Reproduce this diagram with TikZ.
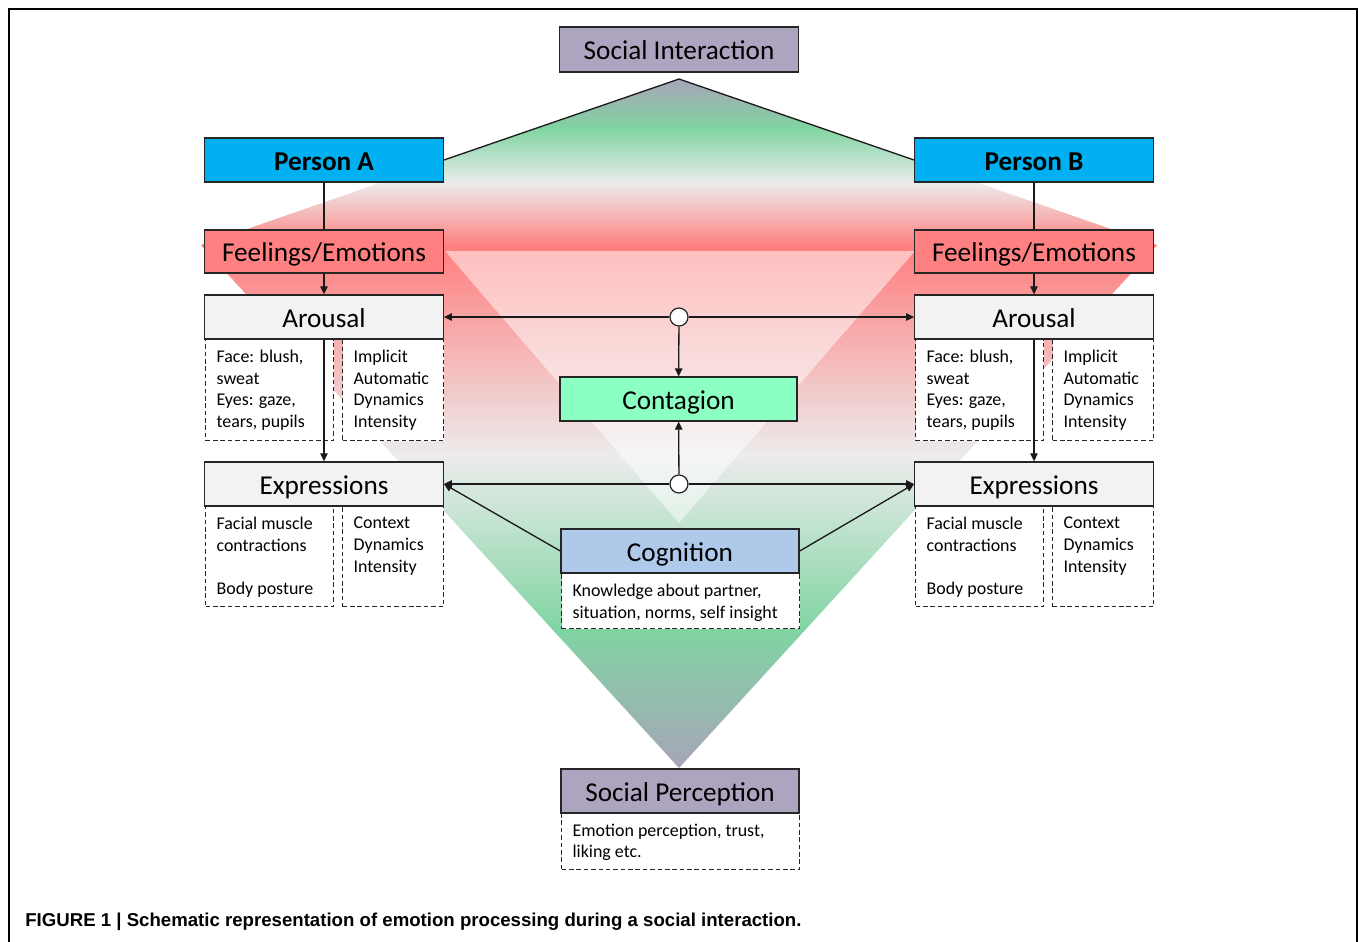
\documentclass[tikz,border=0pt]{standalone}
\usepackage{fontspec}
\setmainfont{Carlito}
\newfontfamily\capfont{Liberation Sans}
\usetikzlibrary{arrows.meta}
\definecolor{siPurple}{HTML}{ADA4BF}
\definecolor{personBlue}{HTML}{00B0F0}
\definecolor{feelRed}{HTML}{FF8080}
\definecolor{boxGray}{HTML}{F2F2F2}
\definecolor{contMint}{HTML}{8CFFC2}
\definecolor{cogBlue}{HTML}{AFC9EA}
\definecolor{gTop}{HTML}{A8A4B8}
\definecolor{gGreen}{HTML}{80D4A2}
\definecolor{gWhite}{HTML}{ECECEC}
\definecolor{gRed}{HTML}{FF8080}
\newcommand\dtext[3]{\parbox[t][#2][t]{#1}{\vspace*{0.2cm}\raggedright\leftskip=0.22cm #3}}

\begin{document}
\begin{tikzpicture}[x=0.02cm, y=-0.02cm,
  box/.style={draw=black!85, line width=0.8pt, minimum width=4.77cm, minimum height=0.88cm, inner sep=0pt, text height=13.4pt, text depth=2pt, font=\fontsize{15.5}{18}\selectfont},
  detail/.style={draw=black!85, dash pattern=on 2.6pt off 1.6pt, line width=0.7pt, fill=white, inner sep=0pt, anchor=north west, font=\fontsize{10.2}{12.5}\selectfont},
  hub/.style={circle, draw=black!85, fill=white, minimum size=0.36cm, inner sep=0pt, line width=0.7pt},
  arr/.style={-{Triangle[length=1.6mm,width=1.5mm]}, line width=0.75pt, black!90},
  con/.style={line width=0.75pt, black!90}]
  \useasboundingbox (0,0) rectangle (1358,941);
  \draw[line width=1.1pt] (9,945) -- (9,9) -- (1357,9) -- (1357,945);

  \begin{scope}
    \clip (679,79) -- (201,245) -- (679,768) -- (1157,245) -- cycle;
    \shade[top color=gTop, bottom color=gGreen] (190,78) rectangle (1170,129);
    \shade[top color=gGreen, bottom color=gWhite] (190,128) rectangle (1170,184);
    \shade[top color=gWhite, bottom color=gRed] (190,183) rectangle (1170,246);
    \fill[gRed] (190,245) rectangle (1170,252);
    \shade[top color=gRed, bottom color=gWhite] (190,251) rectangle (1170,456);
    \shade[top color=gWhite, bottom color=gGreen] (190,455) rectangle (1170,631);
    \shade[top color=gGreen, bottom color=gTop] (190,630) rectangle (1170,770);
  \end{scope}
  \fill[white, opacity=0.5] (445,251) -- (915,251) -- (679,523) -- cycle;
  \coordinate (apex) at (679,79);

  \node[box, fill=siPurple, minimum height=0.9cm] (si) at (679,49.5) {Social Interaction};
  \node[box, fill=personBlue, font=\fontsize{15.5}{18}\selectfont\bfseries] (pa) at (324,160) {Person A};
  \node[box, fill=personBlue, font=\fontsize{15.5}{18}\selectfont\bfseries] (pb) at (1034,160) {Person B};
  \node[box, fill=feelRed, minimum height=0.86cm] (feA) at (324,251.5) {Feelings/Emotions};
  \node[box, fill=feelRed, minimum height=0.86cm] (feB) at (1034,251.5) {Feelings/Emotions};
  \node[box, fill=boxGray] (arA) at (324,317) {Arousal};
  \node[box, fill=boxGray] (arB) at (1034,317) {Arousal};
  \node[detail] (arA1) at (205,339) {\dtext{2.56cm}{2.02cm}{Face: blush,\\sweat\\Eyes: gaze,\\tears, pupils}};
  \node[detail] (arA2) at (342,339) {\dtext{2.02cm}{2.02cm}{Implicit\\Automatic\\Dynamics\\Intensity}};
  \node[detail] (arB1) at (915,339) {\dtext{2.56cm}{2.02cm}{Face: blush,\\sweat\\Eyes: gaze,\\tears, pupils}};
  \node[detail] (arB2) at (1052,339) {\dtext{2.02cm}{2.02cm}{Implicit\\Automatic\\Dynamics\\Intensity}};
  \node[box, fill=boxGray] (exA) at (324,484) {Expressions};
  \node[box, fill=boxGray] (exB) at (1034,484) {Expressions};
  \node[detail] (exA1) at (205,506) {\dtext{2.56cm}{2cm}{Facial muscle\\contractions\\[12.5pt]Body posture}};
  \node[detail] (exA2) at (342,506) {\dtext{2.02cm}{2cm}{Context\\Dynamics\\Intensity}};
  \node[detail] (exB1) at (915,506) {\dtext{2.56cm}{2cm}{Facial muscle\\contractions\\[12.5pt]Body posture}};
  \node[detail] (exB2) at (1052,506) {\dtext{2.02cm}{2cm}{Context\\Dynamics\\Intensity}};
  \node[box, fill=contMint, minimum width=4.74cm] (cont) at (678.5,399) {Contagion};
  \node[box, fill=cogBlue, minimum width=4.76cm] (cog) at (680,551) {Cognition};
  \node[detail] (cog1) at (561,573) {\dtext{4.76cm}{1.1cm}{Knowledge about partner,\\situation, norms, self insight}};
  \node[box, fill=siPurple, minimum width=4.76cm] (sp) at (680,791) {Social Perception};
  \node[detail] (sp1) at (561,813) {\dtext{4.76cm}{1.12cm}{Emotion perception, trust,\\liking etc.}};
  \node[hub] (h1) at (679,317) {};
  \node[hub] (h2) at (679,484) {};

  \draw[con] (pa.east) -- (apex) -- (pb.west);
  \draw[con] (pa) -- (feA);
  \draw[con] (pb) -- (feB);
  \draw[arr] (feA) -- (arA);
  \draw[arr] (feB) -- (arB);
  \draw[arr] (arA) -- (exA);
  \draw[arr] (arB) -- (exB);
  \draw[arr] (h1) -- (arA);
  \draw[arr] (h1) -- (arB);
  \draw[arr] (h1) -- (cont);
  \draw[arr] (h2) -- (exA);
  \draw[arr] (h2) -- (exB);
  \draw[arr] (h2) -- (cont);
  \draw[arr] (cog.west) -- (exA.east);
  \draw[arr] (cog.east) -- (exB.west);

  \node[anchor=base west, inner sep=0pt, font=\capfont\bfseries\fontsize{10.6}{12}\selectfont] (cap) at (25,926) {FIGURE 1 | Schematic representation of emotion processing during a social interaction.};
\end{tikzpicture}
\end{document}
